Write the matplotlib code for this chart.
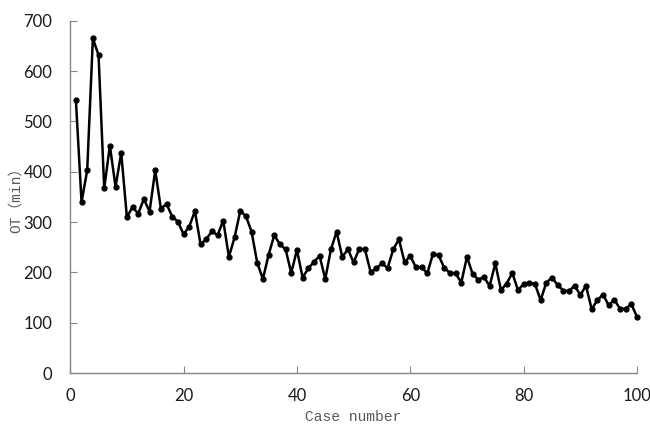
import numpy as np
import matplotlib.pyplot as plt

# operating time per case
case = np.arange(1, 101)
ot = [543, 340, 403, 665, 632, 367, 452, 370, 438, 310,
      330, 317, 346, 321, 403, 327, 336, 311, 301, 276,
      291, 322, 256, 266, 282, 274, 303, 231, 270, 322,
      312, 281, 219, 187, 235, 274, 256, 246, 199, 245,
      190, 208, 221, 233, 187, 246, 281, 231, 246, 220,
      247, 246, 201, 208, 218, 209, 246, 266, 220, 233,
      210, 211, 198, 237, 234, 209, 199, 198, 180, 231,
      197, 186, 191, 173, 218, 165, 178, 199, 165, 177,
      180, 177, 145, 180, 190, 175, 164, 163, 174, 155,
      174, 127, 145, 156, 135, 146, 128, 128, 137, 112]

xticks = [0, 20, 40, 60, 80, 100]
yticks = [0, 100, 200, 300, 400, 500, 600, 700]

fig = plt.figure(figsize=(6.5, 4.25), dpi=100)
ax = fig.add_axes([0.108, 0.122, 0.872, 0.829])

ax.plot(case, ot, color='black', lw=1.8, marker='o', ms=3.5, clip_on=False)

ax.set_xlim(0, 100)
ax.set_ylim(0, 700)
ax.set_xticks(xticks)
ax.set_yticks(yticks)

for s in ['top', 'right']:
    ax.spines[s].set_visible(False)
for s in ['left', 'bottom']:
    ax.spines[s].set_color('#868686')
    ax.spines[s].set_linewidth(1.0)

ax.tick_params(direction='in', length=5, color='#868686', labelsize=12)
ax.tick_params(axis='y', pad=13)
ax.tick_params(axis='x', pad=11)
for lab in ax.get_xticklabels() + ax.get_yticklabels():
    lab.set_family('Lato')
    lab.set_color('#1a1a1a')

lab_font = dict(family=['Liberation Mono', 'Noto Sans CJK SC'], size=10.5, color='#595959')
ax.set_xlabel('Case number', **lab_font)
ax.set_ylabel('OT（min）', **lab_font)
ax.xaxis.set_label_coords(0.5, -0.105)
ax.yaxis.set_label_coords(-0.084, 0.5)

fig.savefig('out.png', dpi=100, facecolor='white')
